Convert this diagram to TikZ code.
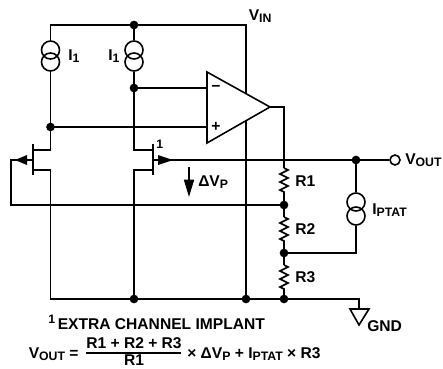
\documentclass[tikz,border=0pt]{standalone}
\usepackage{fontspec}
\setmainfont{Liberation Sans}[BoldFont={Liberation Sans Bold}]
\usetikzlibrary{decorations.pathmorphing,arrows.meta}
\newcommand\sbs[1]{\raisebox{-0.3ex}{\fontsize{9.2}{10}\selectfont #1}}
\tikzset{
  x=0.75pt,y=-0.75pt,
  wire/.style={line width=1.2pt,line join=miter},
  lbl/.style={inner sep=0pt,font=\fontsize{11.7}{13}\selectfont\bfseries,text=black},
  jn/.style={circle,fill=black,draw=none,minimum size=6.5pt,inner sep=0pt},
  csrc/.style={circle,draw=black,line width=1.2pt,minimum size=13.5pt,inner sep=0pt},
  term/.style={circle,draw=black,fill=white,line width=1.2pt,minimum size=7.5pt,inner sep=0pt},
  res/.style={wire,decoration={zigzag,segment length=6pt,amplitude=3pt},decorate}
}
\begin{document}
\begin{tikzpicture}
\useasboundingbox (0,0) rectangle (443,368);
% junctions
\node[jn] (top) at (134,25) {};
\node[jn] (d2) at (134,88) {};
\node[jn] (d1) at (50.5,127) {};
\node[jn] (vo) at (356,160) {};
\node[jn] (n1) at (284,205) {};
\node[jn] (n2) at (284,253) {};
\node[jn] (n3) at (284,299) {};
\node[jn] (b2) at (134,299) {};
\node[jn] (b3) at (246,299) {};
% coordinates
\coordinate (tl) at (50.5,25);
\coordinate (tr) at (246,25);
\coordinate (bl) at (50.5,299);
\coordinate (gt) at (359,299);
\coordinate (gtop) at (359,309);
\coordinate (m1d) at (33,150);
\coordinate (m1s) at (33,170);
\coordinate (m1sc) at (50.5,170);
\coordinate (m1b) at (33,160);
\coordinate (m1bl) at (11,160);
\coordinate (m1bb) at (11,205);
\coordinate (m2d) at (153,150);
\coordinate (m2dc) at (134,150);
\coordinate (m2s) at (153,170);
\coordinate (m2sc) at (134,170);
\coordinate (m2b) at (153,160);
\coordinate (oa1) at (207,72);
\coordinate (oa2) at (207,143);
\coordinate (oa3) at (270,107);
\coordinate (oam) at (207,88);
\coordinate (oap) at (207,127);
\coordinate (oc) at (284,107);
\coordinate (oj) at (284,160);
\coordinate (r1a) at (284,168);
\coordinate (r1b) at (284,193);
\coordinate (r2a) at (284,217);
\coordinate (r2b) at (284,242);
\coordinate (r3a) at (284,265);
\coordinate (r3b) at (284,290);
\coordinate (up) at (246,93);
\coordinate (lo) at (246,121);
% sources
\node[csrc] (s1a) at (50.5,50) {};
\node[csrc] (s1b) at (50.5,62) {};
\node[csrc] (s2a) at (134,50) {};
\node[csrc] (s2b) at (134,62) {};
\node[csrc] (s3a) at (356,202) {};
\node[csrc] (s3b) at (356,216) {};
\node[term] (out) at (395,160) {};
% wires
\draw[wire] (s1a.north) -- (tl) -- (top.center) -- (tr) -- (up);
\draw[wire] (top.center) -- (s2a.north);
\draw[wire] (s1b.south) -- (d1.center) |- (m1d);
\draw[wire] (s2b.south) -- (d2.center) -- (m2dc) -- (m2d);
\draw[wire] (d2.center) -- (oam);
\draw[wire] (d1.center) -- (oap);
\draw[wire] (m1s) -- (m1sc) -- (bl) -- (b2.center) -- (b3.center) -- (n3.center) -- (gt) -- (gtop);
\draw[wire] (m2s) -- (m2sc) -- (b2.center);
\draw[wire] (lo) -- (b3.center);
\draw[wire] (oa1) -- (oa2) -- (oa3) -- cycle;
\draw[wire] (oa3) -- (oc) -- (oj);
\draw[wire] (m2b) -- (vo.center) -- (out.west);
\draw[wire] (m1b) -- (m1bl) -- (m1bb) -- (n1.center);
\draw[wire] (33,144) -- (33,175);
\draw[wire] (153,144) -- (153,175);
\fill (27,155) -- (15,160) -- (27,165) -- cycle;
\fill (158,155) -- (173,160) -- (158,165) -- cycle;
% resistors
\draw[wire] (oj) -- (r1a);
\draw[res] (r1a) -- (r1b);
\draw[wire] (r1b) -- (n1.center) -- (r2a);
\draw[res] (r2a) -- (r2b);
\draw[wire] (r2b) -- (n2.center) -- (r3a);
\draw[res] (r3a) -- (r3b);
\draw[wire] (r3b) -- (n3.center);
% Iptat
\draw[wire] (vo.center) -- (s3a.north);
\draw[wire] (s3b.south) |- (n2.center);
% gnd
\draw[wire] (350,309) -- (369,309) -- (359,325) -- cycle;
% delta arrow
\coordinate (da) at (189,167);
\coordinate (db) at (189,197);
\draw[wire,-{Triangle[length=13pt,width=7.5pt]}] (da) -- (db);
% opamp signs
\node[lbl] (minus) at (216,88) {−};
\node[lbl] (plus) at (216,127) {+};
% labels
\node[lbl,anchor=base west] (li1) at (68,60.5) {I\sbs{1}};
\node[lbl,anchor=base west] (li2) at (108,60.5) {I\sbs{1}};
\node[lbl,anchor=base west] (lvin) at (248.5,20) {V\sbs{IN}};
\node[lbl,anchor=base west] (lone) at (156,148) {\fontsize{9.2}{10}\selectfont 1};
\node[lbl,anchor=base west] (ldv) at (198,186) {ΔV\sbs{P}};
\node[lbl,anchor=base west] (lvout) at (405,164.5) {V\sbs{OUT}};
\node[lbl,anchor=base west] (lr1) at (295,186.5) {R1};
\node[lbl,anchor=base west] (lr2) at (295,234) {R2};
\node[lbl,anchor=base west] (lr3) at (295,282.5) {R3};
\node[lbl,anchor=base west] (lip) at (372,214) {I\sbs{PTAT}};
\node[lbl,anchor=base west] (lgnd) at (367,331) {GND};
\node[lbl,anchor=base west] (lsup) at (48,323) {\fontsize{9.2}{10}\selectfont 1};
\node[lbl,anchor=base west] (lext) at (57.5,329) {EXTRA CHANNEL IMPLANT};
\node[lbl,anchor=base west] (lvo2) at (28.5,358) {V\sbs{OUT} =};
\node[lbl,anchor=base] (lnum) at (134,348.5) {R1 + R2 + R3};
\node[lbl,anchor=base] (lden) at (134,365.5) {R1};
\draw[line width=1.3pt] (86,353) -- (181,353);
\node[lbl,anchor=base west] (lrest) at (187,358) {× ΔV\sbs{P} + I\sbs{PTAT} × R3};
\end{tikzpicture}
\end{document}
